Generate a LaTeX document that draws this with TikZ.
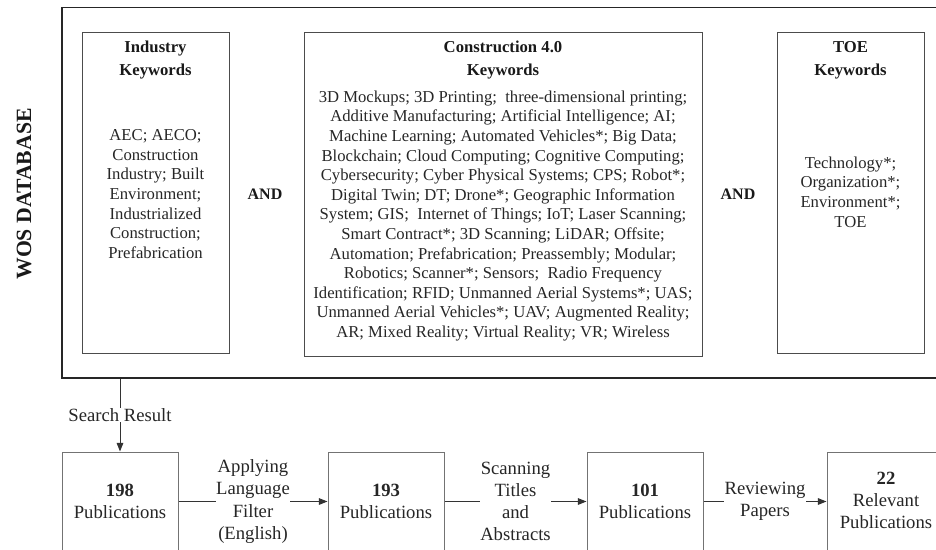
\documentclass[tikz,border=0pt]{standalone}
\usepackage{fontspec}
\setmainfont{Liberation Serif}
\usetikzlibrary{arrows.meta,fit}

\begin{document}
\begin{tikzpicture}[x=0.75pt,y=-0.75pt,
  frame/.style={draw=black!85, line width=1.1pt, inner sep=0pt},
  kwbox/.style={draw=black!70, line width=0.75pt, inner sep=0pt},
  pubbox/.style={draw=black!55, line width=0.75pt, inner sep=0pt},
  head/.style={font=\fontsize{12.5}{17.25}\selectfont\bfseries, align=center, inner sep=0pt, text=black!90},
  kwtext/.style={font=\fontsize{12.5}{14.7}\selectfont, align=center, inner sep=0pt, text=black!85},
  joiner/.style={font=\fontsize{12}{14}\selectfont\bfseries, inner sep=0pt, text=black!90},
  flowtext/.style={font=\fontsize{14}{16.7}\selectfont, align=center, text=black!85},
  steplabel/.style={flowtext, fill=white, inner sep=0.5pt},
  link/.style={draw=black!80, line width=0.75pt, -{Triangle[length=6.5pt,width=5pt]}}
]
\useasboundingbox (0,0) rectangle (936,550);

% database frame (runs past the right edge)
\coordinate (wosA) at (62,7.5);
\coordinate (wosB) at (945,378);
\node[frame, fit=(wosA)(wosB)] (wos) {};
\node[font=\fontsize{16.3}{18}\selectfont\bfseries, rotate=90, inner sep=0pt, text=black!90] (wosTitle) at (24,194) {WOS DATABASE};

% keyword groups
\coordinate (indA) at (82,32);   \coordinate (indB) at (229,353);
\coordinate (conA) at (304,32);  \coordinate (conB) at (702,356);
\coordinate (toeA) at (777,32);  \coordinate (toeB) at (924,353);
\node[kwbox, fit=(indA)(indB)] (ind) {};
\node[kwbox, fit=(conA)(conB)] (con) {};
\node[kwbox, fit=(toeA)(toeB)] (toe) {};

\node[head] (indHead) at (155.5,60.5) {Industry\\Keywords};
\node[kwtext] (indBody) at (155.5,194) {AEC; AECO;\\Construction\\Industry; Built\\Environment;\\Industrialized\\Construction;\\Prefabrication};

\node[head] (conHead) at (503,60.5) {Construction 4.0\\Keywords};
\node[kwtext] (conBody) at (503,216) {3D Mockups; 3D Printing; \ three-dimensional printing;\\
Additive Manufacturing; Artificial Intelligence; AI;\\
Machine Learning; Automated Vehicles*; Big Data;\\
Blockchain; Cloud Computing; Cognitive Computing;\\
Cybersecurity; Cyber Physical Systems; CPS; Robot*;\\
Digital Twin; DT; Drone*; Geographic Information\\
System; GIS; \ Internet of Things; IoT; Laser Scanning;\\
Smart Contract*; 3D Scanning; LiDAR; Offsite;\\
Automation; Prefabrication; Preassembly; Modular;\\
Robotics; Scanner*; Sensors; \ Radio Frequency\\
Identification; RFID; Unmanned Aerial Systems*; UAS;\\
Unmanned Aerial Vehicles*; UAV; Augmented Reality;\\
AR; Mixed Reality; Virtual Reality; VR; Wireless};

\node[head] (toeHead) at (850.5,60.5) {TOE\\Keywords};
\node[kwtext] (toeBody) at (850.5,192) {Technology*;\\Organization*;\\Environment*;\\TOE};

\node[joiner] (and1) at (265,194) {AND};
\node[joiner] (and2) at (738,194) {AND};

% screening steps (boxes run past the bottom edge)
\coordinate (p1A) at (62,452);  \coordinate (p1B) at (178,551);
\coordinate (p2A) at (328,452); \coordinate (p2B) at (444,551);
\coordinate (p3A) at (587,452); \coordinate (p3B) at (703,551);
\coordinate (p4A) at (827,452); \coordinate (p4B) at (958,551);
\node[pubbox, fit=(p1A)(p1B)] (p198) {};
\node[pubbox, fit=(p2A)(p2B)] (p193) {};
\node[pubbox, fit=(p3A)(p3B)] (p101) {};
\node[pubbox, fit=(p4A)(p4B)] (p22) {};

\node[flowtext, inner sep=0pt] (t198) at (120,501.5) {\textbf{198}\\Publications};
\node[flowtext, inner sep=0pt] (t193) at (386,501.5) {\textbf{193}\\Publications};
\node[flowtext, inner sep=0pt] (t101) at (645,501.5) {\textbf{101}\\Publications};
\node[flowtext, inner sep=0pt] (t22) at (886,500.5) {\textbf{22}\\Relevant\\Publications};

% connectors
\draw[link] (wos.south -| p198.north) -- node[steplabel] {Search Result} (p198.north);
\draw[link] (p198.east) -- node[steplabel] {Applying\\Language\\Filter\\(English)} (p193.west);
\draw[link] (p193.east) -- node[steplabel] {Scanning\\Titles\\and\\Abstracts} (p101.west);
\draw[link] (p101.east) -- node[steplabel] {Reviewing\\Papers} (p22.west);
\end{tikzpicture}
\end{document}
